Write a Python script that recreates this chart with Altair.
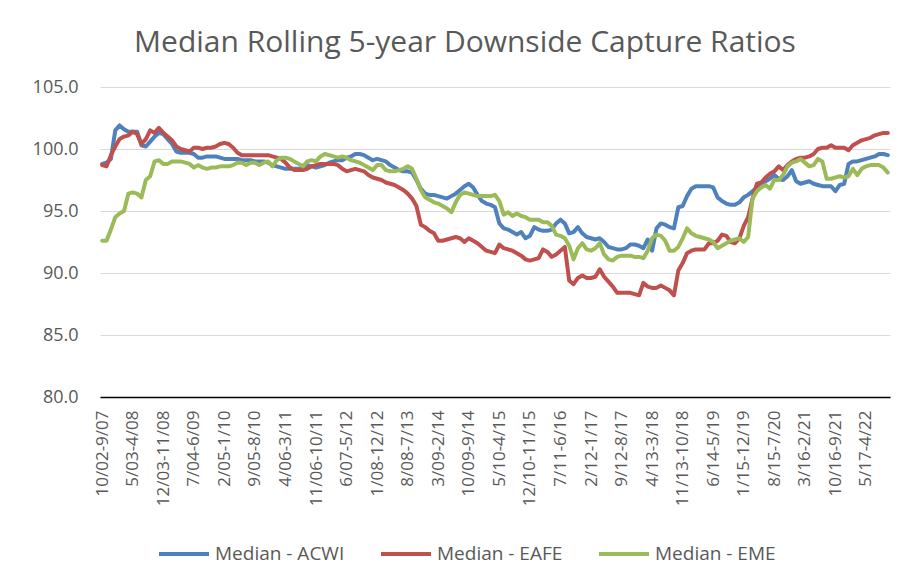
import altair as alt
import pandas as pd

TICK_LABELS = [
    "10/02-9/07", "5/03-4/08", "12/03-11/08", "7/04-6/09", "2/05-1/10",
    "9/05-8/10", "4/06-3/11", "11/06-10/11", "6/07-5/12", "1/08-12/12",
    "8/08-7/13", "3/09-2/14", "10/09-9/14", "5/10-4/15", "12/10-11/15",
    "7/11-6/16", "2/12-1/17", "9/12-8/17", "4/13-3/18", "11/13-10/18",
    "6/14-5/19", "1/15-12/19", "8/15-7/20", "3/16-2/21", "10/16-9/21",
    "5/17-4/22",
]

ACWI = [
    98.8, 98.9, 99.2, 101.5, 101.9, 101.6, 101.4, 101.4, 101.4, 100.3,
    100.2, 100.6, 101.0, 101.3, 101.2, 100.8, 100.4, 99.8, 99.7, 99.7,
    99.7, 99.6, 99.3, 99.3, 99.4, 99.4, 99.4, 99.3, 99.2, 99.2,
    99.2, 99.2, 99.1, 99.1, 99.1, 99.0, 99.0, 99.0, 98.9, 98.7,
    98.6, 98.5, 98.4, 98.4, 98.4, 98.4, 98.5, 98.7, 98.6, 98.5,
    98.6, 98.7, 98.9, 99.0, 99.1, 99.1, 99.3, 99.4, 99.6, 99.6,
    99.5, 99.3, 99.1, 99.2, 99.1, 99.0, 98.7, 98.5, 98.3, 98.2,
    98.2, 98.1, 97.5, 96.8, 96.4, 96.3, 96.3, 96.2, 96.1, 96.0,
    96.2, 96.4, 96.7, 97.0, 97.2, 96.9, 96.3, 95.8, 95.6, 95.5,
    95.3, 94.0, 93.6, 93.5, 93.3, 93.1, 93.3, 92.8, 93.0, 93.7,
    93.5, 93.4, 93.4, 93.5, 94.0, 94.3, 94.0, 93.2, 93.3, 93.7,
    93.2, 92.9, 92.8, 92.7, 92.8, 92.5, 92.1, 92.0, 91.9, 91.9,
    92.0, 92.3, 92.3, 92.2, 92.0, 92.7, 91.8, 93.6, 94.0, 93.9,
    93.7, 93.6, 95.3, 95.4, 96.2, 96.8, 97.0, 97.0, 97.0, 97.0,
    96.9, 96.1, 95.8, 95.6, 95.5, 95.5, 95.7, 96.1, 96.3, 96.6,
    96.9, 97.1, 97.4, 97.6, 97.9, 97.6, 97.5, 97.8, 98.3, 97.4,
    97.2, 97.3, 97.4, 97.2, 97.1, 97.0, 97.0, 97.0, 96.6, 97.1,
    97.2, 98.8, 99.0, 99.0, 99.1, 99.2, 99.3, 99.4, 99.6, 99.6, 99.5,
]

EAFE = [
    98.7, 98.6, 99.5, 100.2, 100.8, 101.0, 101.1, 101.4, 101.2, 100.4,
    100.8, 101.5, 101.3, 101.7, 101.3, 101.0, 100.7, 100.2, 100.0, 99.9,
    99.8, 100.1, 100.1, 100.0, 100.1, 100.1, 100.2, 100.4, 100.5, 100.4,
    100.1, 99.7, 99.5, 99.5, 99.5, 99.5, 99.5, 99.5, 99.5, 99.4,
    99.3, 99.2, 98.9, 98.5, 98.3, 98.3, 98.3, 98.4, 98.6, 98.7,
    98.8, 98.8, 98.8, 98.8, 98.7, 98.4, 98.2, 98.3, 98.4, 98.3,
    98.2, 97.9, 97.7, 97.6, 97.5, 97.3, 97.2, 97.1, 96.9, 96.7,
    96.4, 96.0, 95.4, 93.9, 93.7, 93.4, 93.2, 92.6, 92.6, 92.7,
    92.8, 92.9, 92.8, 92.5, 92.8, 92.6, 92.4, 92.1, 91.8, 91.7,
    91.6, 92.3, 92.0, 91.9, 91.8, 91.6, 91.4, 91.1, 91.0, 91.1,
    91.2, 91.9, 91.7, 91.3, 91.5, 91.8, 92.1, 89.4, 89.1, 89.6,
    89.8, 89.6, 89.6, 89.7, 90.3, 89.7, 89.3, 88.9, 88.4, 88.4,
    88.4, 88.4, 88.3, 88.2, 89.2, 88.9, 88.8, 88.8, 89.0, 88.8,
    88.6, 88.2, 90.2, 90.8, 91.6, 91.8, 91.9, 91.9, 91.9, 92.4,
    92.4, 92.6, 93.1, 93.0, 92.5, 92.4, 92.8, 93.8, 94.5, 96.0,
    97.2, 97.3, 97.7, 98.0, 98.2, 98.6, 98.3, 98.7, 99.0, 99.2,
    99.3, 99.3, 99.4, 99.6, 100.0, 100.1, 100.1, 100.3, 100.1, 100.1,
    100.1, 99.9, 100.3, 100.5, 100.7, 100.8, 100.9, 101.1, 101.2, 101.3, 101.3,
]

EME = [
    92.6, 92.6, 93.5, 94.5, 94.8, 95.0, 96.4, 96.5, 96.4, 96.1,
    97.5, 97.8, 99.0, 99.1, 98.8, 98.8, 99.0, 99.0, 99.0, 98.9,
    98.8, 98.5, 98.7, 98.5, 98.4, 98.5, 98.5, 98.6, 98.6, 98.6,
    98.7, 98.9, 98.9, 98.7, 98.9, 98.9, 98.7, 98.9, 99.0, 98.6,
    99.1, 99.3, 99.3, 99.2, 99.0, 98.8, 98.6, 99.0, 99.1, 99.0,
    99.4, 99.6, 99.5, 99.4, 99.3, 99.4, 99.3, 99.1, 99.0, 98.9,
    98.7, 98.5, 98.3, 98.7, 98.7, 98.3, 98.2, 98.2, 98.3, 98.4,
    98.6, 98.4, 97.6, 96.7, 96.1, 95.9, 95.7, 95.6, 95.4, 95.2,
    94.9, 95.7, 96.3, 96.5, 96.4, 96.3, 96.2, 96.2, 96.2, 96.2,
    96.3, 95.8, 94.7, 94.9, 94.6, 94.8, 94.6, 94.5, 94.3, 94.3,
    94.3, 94.1, 94.1, 93.8, 93.1, 93.0, 92.8, 92.2, 91.1, 92.0,
    92.4, 91.9, 91.8, 92.0, 92.4, 91.5, 91.1, 91.0, 91.3, 91.4,
    91.4, 91.4, 91.3, 91.3, 91.2, 91.8, 92.8, 93.1, 93.0, 92.6,
    91.8, 91.8, 92.1, 92.8, 93.6, 93.2, 93.0, 92.9, 92.8, 92.7,
    92.5, 92.0, 92.2, 92.4, 92.6, 92.7, 92.8, 92.5, 92.9, 96.0,
    96.6, 96.9, 97.1, 96.8, 97.5, 97.5, 97.9, 98.6, 98.9, 99.0,
    99.2, 98.9, 98.6, 98.7, 99.2, 99.0, 97.6, 97.6, 97.7, 97.8,
    97.7, 97.8, 98.4, 97.9, 98.4, 98.6, 98.7, 98.7, 98.7, 98.5, 98.1,
]

SERIES_NAMES = ["Median - ACWI", "Median - EAFE", "Median - EME"]
COLORS = ["#4F81BD", "#C0504D", "#9BBB59"]
Y_TICKS = [80, 85, 90, 95, 100, 105]

rows = []
for name, vals in zip(SERIES_NAMES, [ACWI, EAFE, EME]):
    for i, v in enumerate(vals):
        rows.append({"idx": i, "series": name, "value": v})
df = pd.DataFrame(rows)

n = len(ACWI)
tick_positions = [7 * k for k in range(len(TICK_LABELS))]
label_array = "[" + ",".join("'" + s + "'" for s in TICK_LABELS) + "]"
label_expr = label_array + "[round(datum.value / 7)]"

FONT = "Open Sans"
GRAY = "#595959"

chart = alt.Chart(df).mark_line(strokeWidth=4, strokeJoin="round", strokeCap="round").encode(
    x=alt.X(
        "idx:Q",
        scale=alt.Scale(domain=[-0.5, n - 0.5], nice=False, zero=False),
        axis=alt.Axis(
            values=tick_positions,
            labelExpr=label_expr,
            labelAngle=-90,
            labelFontSize=17,
            labelFont=FONT,
            labelColor=GRAY,
            labelPadding=13,
            ticks=False,
            grid=False,
            domainColor="#000000",
            domainWidth=1.5,
            title=None,
            labelOverlap=False,
        ),
    ),
    y=alt.Y(
        "value:Q",
        scale=alt.Scale(domain=[80, 105], nice=False, zero=False),
        axis=alt.Axis(
            values=Y_TICKS,
            format=".1f",
            labelFontSize=18,
            labelFont=FONT,
            labelColor=GRAY,
            labelPadding=22,
            ticks=False,
            domain=False,
            grid=True,
            gridColor="#D9D9D9",
            gridWidth=1,
            title=None,
        ),
    ),
    color=alt.Color(
        "series:N",
        sort=SERIES_NAMES,
        scale=alt.Scale(domain=SERIES_NAMES, range=COLORS),
        legend=alt.Legend(
            title=None,
            orient="none",
            legendX=57,
            legendY=440,
            direction="horizontal",
            symbolType="stroke",
            symbolSize=2500,
            symbolStrokeWidth=4,
            labelFontSize=19,
            labelFont=FONT,
            labelColor=GRAY,
            labelOffset=4,
            columnPadding=28,
            labelLimit=300,
        ),
    ),
).properties(
    width=790,
    height=310,
    title=alt.TitleParams(
        "Median Rolling 5-year Downside Capture Ratios",
        fontSize=30,
        font=FONT,
        fontWeight="normal",
        color=GRAY,
        anchor="middle",
        dx=-30,
        offset=20,
    ),
    autosize=alt.AutoSizeParams(type="none"),
    padding={"left": 92, "top": 79, "right": 20, "bottom": 182},
).configure_view(stroke=None)

chart.save("out.html", embed_options={"renderer": "svg", "actions": False})
